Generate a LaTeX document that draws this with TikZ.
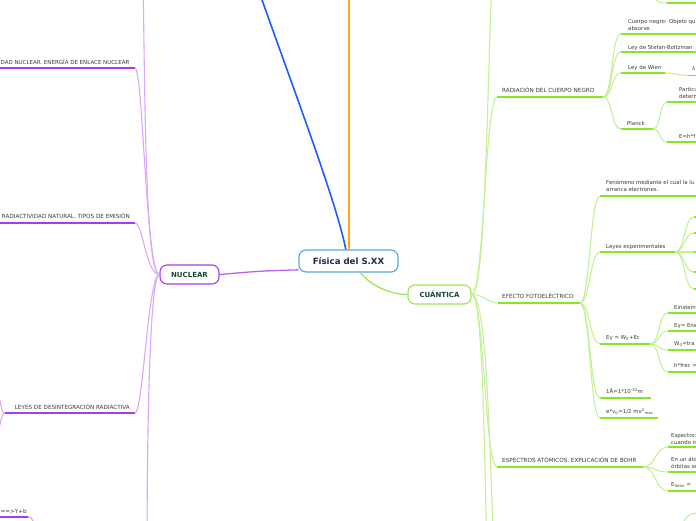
\documentclass[tikz,border=0pt]{standalone}
\usepackage{fontspec}
\setmainfont{DejaVu Sans}
\definecolor{pur}{HTML}{A93BEF}
\definecolor{purl}{HTML}{D9A8F7}
\definecolor{grn}{HTML}{84E823}
\definecolor{grnl}{HTML}{C4F09A}
\definecolor{grnb}{HTML}{9BE851}
\definecolor{blu}{HTML}{1F5CFF}
\definecolor{org}{HTML}{FFA51F}
\definecolor{cbord}{HTML}{5BA3E0}
\definecolor{navy}{HTML}{1B2A48}
\definecolor{dgrn}{HTML}{17483A}
\definecolor{txt}{HTML}{3A3A3A}
\tikzset{
 lbl/.style={inner sep=0pt, anchor=base west, font=\fontsize{5.4}{6}\selectfont, text=txt},
 caps/.style={inner sep=0pt, anchor=base west, font=\fontsize{5.65}{6}\selectfont, text=txt},
 gul/.style={draw=grn, line width=1.8pt},
 gcn/.style={draw=grnl, line width=1.1pt},
 pul/.style={draw=pur, line width=1.8pt},
 pcn/.style={draw=purl, line width=1.1pt},
 topic/.style={rounded corners=7pt, fill=white, line width=1.1pt, inner sep=0pt,
   font=\fontsize{7}{8}\selectfont\bfseries, text=dgrn},
}
\begin{document}
\begin{tikzpicture}[x=1pt,y=-1pt]
\useasboundingbox (0,0) rectangle (696,520);

% ---------- main topics ----------
\node[topic, draw=cbord, minimum width=99pt, minimum height=22pt,
  font=\fontsize{8.6}{10}\selectfont\bfseries, text=navy] (cen) at (348.5,261) {Física del S.XX};
\node[topic, draw=pur, minimum width=59pt, minimum height=19pt] (nuc) at (189.5,274.5) {NUCLEAR};
\node[topic, draw=grnb, minimum width=63pt, minimum height=19pt] (cua) at (439.5,294.5) {CUÁNTICA};

\coordinate (bluetop) at (255,-20);
\coordinate (orgtop) at (348.5,-20);
\draw[blu, line width=1.6pt] (cen.103) .. controls (336,200) and (290,80) .. (bluetop);
\draw[org, line width=2pt] (cen.north) -- (orgtop);
\draw[pur!80, line width=1.3pt] (cen.190) .. controls (260,271) .. (nuc.east);
\draw[grnb, line width=1.3pt] (cen.-44) .. controls (372,287) and (392,294.5) .. (cua.west);

% ---------- NUCLEAR side ----------
\coordinate (ptop) at (143,-30);
\coordinate (pbot) at (147,560);
\draw[pcn] (nuc.west) .. controls (146,274.5) and (145,120) .. (ptop);
\draw[pcn] (nuc.west) .. controls (150,274.5) and (147,420) .. (pbot);

\node[caps, font=\fontsize{5.5}{6}\selectfont] (dad) at (0.5,64.5) {DAD NUCLEAR. ENERGÍA DE ENLACE NUCLEAR};
\coordinate (dadL) at (-5,68); \coordinate (dadR) at (135,68);
\draw[pul] (dadL) -- (dadR);
\draw[pcn] (nuc.west) .. controls (146,274.5) and (143,68) .. (dadR);

\node[caps, anchor=base east] (rad) at (130,218.5) {RADIACTIVIDAD NATURAL. TIPOS DE EMISIÓN};
\coordinate (radL) at (-5,223); \coordinate (radR) at (135,223);
\draw[pul] (radL) -- (radR);
\draw[pcn] (nuc.west) .. controls (146,274.5) and (143,223) .. (radR);

\node[caps, anchor=base east] (ley) at (130,409.5) {LEYES DE DESINTEGRACIÓN RADIACTIVA};
\coordinate (leyL) at (5,413); \coordinate (leyR) at (135,413);
\draw[pul] (leyL) -- (leyR);
\draw[pcn] (nuc.west) .. controls (148,274.5) and (143,413) .. (leyR);
\coordinate (leyc1) at (-6,390); \coordinate (leyc2) at (-6,434);
\draw[pcn] (leyL) .. controls (0,413) and (2,396) .. (leyc1);
\draw[pcn] (leyL) .. controls (0,413) and (2,430) .. (leyc2);

\node[caps] (yb) at (0.5,513) {==>Y+b};
\coordinate (ybL) at (-5,517); \coordinate (ybR) at (28,517); \coordinate (ybP) at (36,535);
\draw[pul] (ybL) -- (ybR);
\draw[pcn] (ybR) .. controls (33,517) and (34,522) .. (ybP);

% ---------- CUANTICA side ----------
\coordinate (gtop) at (492,-30);
\coordinate (gbot1) at (487,560);
\coordinate (gbot2) at (494,560);
\draw[gcn] (cua.east) .. controls (484,294.5) and (486,150) .. (gtop);
\draw[gcn] (cua.east) .. controls (482,294.5) and (484,420) .. (gbot1);
\draw[gcn] (cua.east) .. controls (486,294.5) and (489,420) .. (gbot2);

% top-right stray child
\coordinate (trP) at (650,-8); \coordinate (trL) at (667,3); \coordinate (trR) at (700,3);
\draw[gcn] (trP) .. controls (656,3) and (660,3) .. (trL);
\draw[gul] (trL) -- (trR);

% RADIACION DEL CUERPO NEGRO
\node[caps] (rcn) at (502,92.5) {RADIACIÓN DEL CUERPO NEGRO};
\coordinate (rcnL) at (497,97); \coordinate (rcnR) at (603,97);
\draw[gul] (rcnL) -- (rcnR);
\draw[gcn] (cua.east) .. controls (484,294.5) and (485,97) .. (rcnL);

\node[lbl] (cn1) at (628,23) {Cuerpo negro: Objeto qu};
\node[lbl] (cn2) at (628,30.5) {absorve.};
\coordinate (cnL) at (621,34); \coordinate (cnR) at (700,34);
\draw[gul] (cnL) -- (cnR);
\draw[gcn] (rcnR) .. controls (613,97) and (611,34) .. (cnL);

\node[lbl] (sb) at (628,49) {Ley de Stefan-Boltzman};
\coordinate (sbL) at (621,52); \coordinate (sbR) at (700,52);
\draw[gul] (sbL) -- (sbR);
\draw[gcn] (rcnR) .. controls (613,97) and (611,52) .. (sbL);

\node[lbl] (wi) at (628,69.5) {Ley de Wien};
\coordinate (wiL) at (621,73); \coordinate (wiR) at (665,73);
\draw[gul] (wiL) -- (wiR);
\draw[gcn] (rcnR) .. controls (613,97) and (611,73) .. (wiL);
\node[lbl] (la) at (692,70) {λ};
\coordinate (laL) at (688,75.5); \coordinate (laR) at (700,75.5);
\draw[gcn] (wiR) .. controls (676,73) and (678,75.5) .. (laL);
\draw[gul] (laL) -- (laR);

\node[lbl] (pl) at (627,125.5) {Planck};
\coordinate (plL) at (621,129); \coordinate (plR) at (653,129);
\draw[gul] (plL) -- (plR);
\draw[gcn] (rcnR) .. controls (613,97) and (611,129) .. (plL);

\node[lbl] (pa1) at (679,91) {Partícu};
\node[lbl] (pa2) at (679,98.5) {determ};
\coordinate (paL) at (667,102); \coordinate (paR) at (700,102);
\draw[gul] (paL) -- (paR);
\draw[gcn] (plR) .. controls (661,129) and (659,102) .. (paL);

\node[lbl] (ehf) at (679,138) {E=h*f};
\coordinate (ehL) at (667,142); \coordinate (ehR) at (700,142);
\draw[gul] (ehL) -- (ehR);
\draw[gcn] (plR) .. controls (661,129) and (659,142) .. (ehL);

% EFECTO FOTOELECTRICO
\node[caps] (ef) at (502,298.5) {EFECTO FOTOELÉCTRICO};
\coordinate (efL) at (498,303); \coordinate (efR) at (580,303);
\draw[gul] (efL) -- (efR);
\draw[gcn] (cua.east) .. controls (485,294.5) and (487,303) .. (efL);

\node[lbl] (fe1) at (606,184) {Fenómeno mediante el cual la lu};
\node[lbl] (fe2) at (606,191.5) {arranca electrones.};
\coordinate (feL) at (600,196); \coordinate (feR) at (700,196);
\draw[gul] (feL) -- (feR);
\draw[gcn] (efR) .. controls (590,303) and (590,196) .. (feL);

\node[lbl] (lx) at (606,248) {Leyes experimentales};
\coordinate (lxL) at (600,252); \coordinate (lxR) at (675,252);
\draw[gul] (lxL) -- (lxR);
\draw[gcn] (efR) .. controls (590,303) and (590,252) .. (lxL);
\foreach \yy [count=\k] in {217,233,252,272,289}{
  \coordinate (lx\k) at (694,\yy);
  \coordinate (lxe\k) at (700,\yy);
  \draw[gcn] (lxR) .. controls (685,252) and (684,\yy) .. (lx\k);
  \draw[gul] (lx\k) -- (lxe\k);
}

\node[lbl] (eg) at (606,339.5) {Eγ = W\textsubscript{0}+Ec};
\coordinate (egL) at (600,344); \coordinate (egR) at (650,344);
\draw[gul] (egL) -- (egR);
\draw[gcn] (efR) .. controls (590,303) and (590,344) .. (egL);

\node[lbl] (e1) at (674,309) {Einstein};
\node[lbl] (e2) at (674,327) {Eγ= Ene};
\node[lbl] (e3) at (674,345.5) {W\textsubscript{0}=tra};
\node[lbl] (e4) at (674,367.5) {h*frec =};
\foreach \yy [count=\k] in {313,331,350,372}{
  \coordinate (eg\k) at (668,\yy);
  \coordinate (ege\k) at (700,\yy);
  \draw[gcn] (egR) .. controls (660,344) and (658,\yy) .. (eg\k);
  \draw[gul] (eg\k) -- (ege\k);
}

\node[lbl] (an) at (606,393.5) {1Å=1*10\textsuperscript{-10}m};
\coordinate (anL) at (600,398); \coordinate (anR) at (651,398);
\draw[gul] (anL) -- (anR);
\draw[gcn] (efR) .. controls (590,303) and (590,398) .. (anL);

\node[lbl] (ev) at (606,413.5) {e*v\textsubscript{0}=1/2 mv\textsuperscript{2}\textsubscript{max}};
\coordinate (evL) at (600,418); \coordinate (evR) at (658,418);
\draw[gul] (evL) -- (evR);
\draw[gcn] (efR) .. controls (590,303) and (590,418) .. (evL);

% ESPECTROS
\node[caps] (es) at (502,462) {ESPECTROS ATÓMICOS. EXPLICACIÓN DE BOHR};
\coordinate (esL) at (497,467); \coordinate (esR) at (643,467);
\draw[gul] (esL) -- (esR);
\draw[gcn] (cua.east) .. controls (484,294.5) and (485,467) .. (esL);

\node[lbl] (s1a) at (671,437) {Espectro:};
\node[lbl] (s1b) at (671,444) {cuando ir};
\node[lbl] (s2a) at (671,461) {En un áto};
\node[lbl] (s2b) at (671,468) {órbitas se};
\node[lbl] (s3) at (671,486.5) {E\textsubscript{fotón} =};
\foreach \yy [count=\k] in {447,472,491}{
  \coordinate (es\k) at (668,\yy);
  \coordinate (ese\k) at (700,\yy);
  \draw[gcn] (esR) .. controls (656,467) and (655,\yy) .. (es\k);
  \draw[gul] (es\k) -- (ese\k);
}

% bottom-right stray connector
\coordinate (brP) at (680,530); \coordinate (brR) at (700,513);
\draw[gcn] (brP) .. controls (686,514) and (690,513) .. (brR);

\end{tikzpicture}
\end{document}
